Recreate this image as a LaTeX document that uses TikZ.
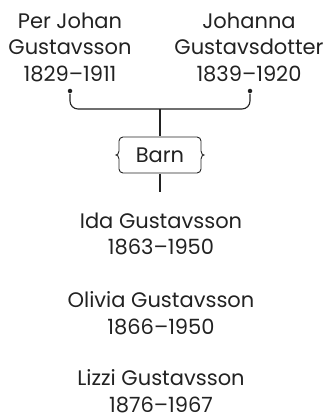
\documentclass[tikz,border=0pt]{standalone}
\usepackage{fontspec}
\setmainfont{Poppins}
\usepackage{tikz}

\definecolor{ink}{HTML}{222222}

\begin{document}
\begin{tikzpicture}[x=1pt, y=-1pt, every node/.style={align=center, text=ink, inner sep=1pt, font=\fontsize{21}{26.5}\selectfont}, line width=1.1pt, draw=ink]
    \useasboundingbox (0,0) rectangle (331,417);

    \node (PER) at (70,47) {Per Johan\\Gustavsson\\1829--1911};
    \node (JOH) at (249,47) {Johanna\\Gustavsdotter\\1839--1920};

    \node[circle, fill=ink, inner sep=0pt, minimum size=4.5pt] (DP) at (70,91) {};
    \node[circle, fill=ink, inner sep=0pt, minimum size=4.5pt] (DJ) at (250,91) {};
    \coordinate (J) at (160,109);

    \draw[rounded corners=8pt] (DP) |- (J) -| (DJ);

    \node[minimum width=82pt, minimum height=36pt] (BARN) at (160,155) {Barn};
    \draw[line width=0.9pt] (123,137) -- (197,137) to[out=0,in=90] (201,141) -- (201,151)
        .. controls (201,154) and (203,155) .. (204,155)
        .. controls (203,155) and (201,156) .. (201,159) -- (201,169) to[out=-90,in=0] (197,173)
        -- (123,173) to[out=180,in=-90] (119,169) -- (119,159)
        .. controls (119,156) and (117,155) .. (116,155)
        .. controls (117,155) and (119,154) .. (119,151) -- (119,141) to[out=90,in=180] (123,137);

    \draw (J) -- (BARN.north);
    \coordinate (E) at (160,192);
    \draw (BARN.south) -- (E);

    \node (IDA) at (161,234) {Ida Gustavsson\\1863--1950};
    \node (OLI) at (161,313) {Olivia Gustavsson\\1866--1950};
    \node (LIZ) at (161,391) {Lizzi Gustavsson\\1876--1967};
\end{tikzpicture}
\end{document}
